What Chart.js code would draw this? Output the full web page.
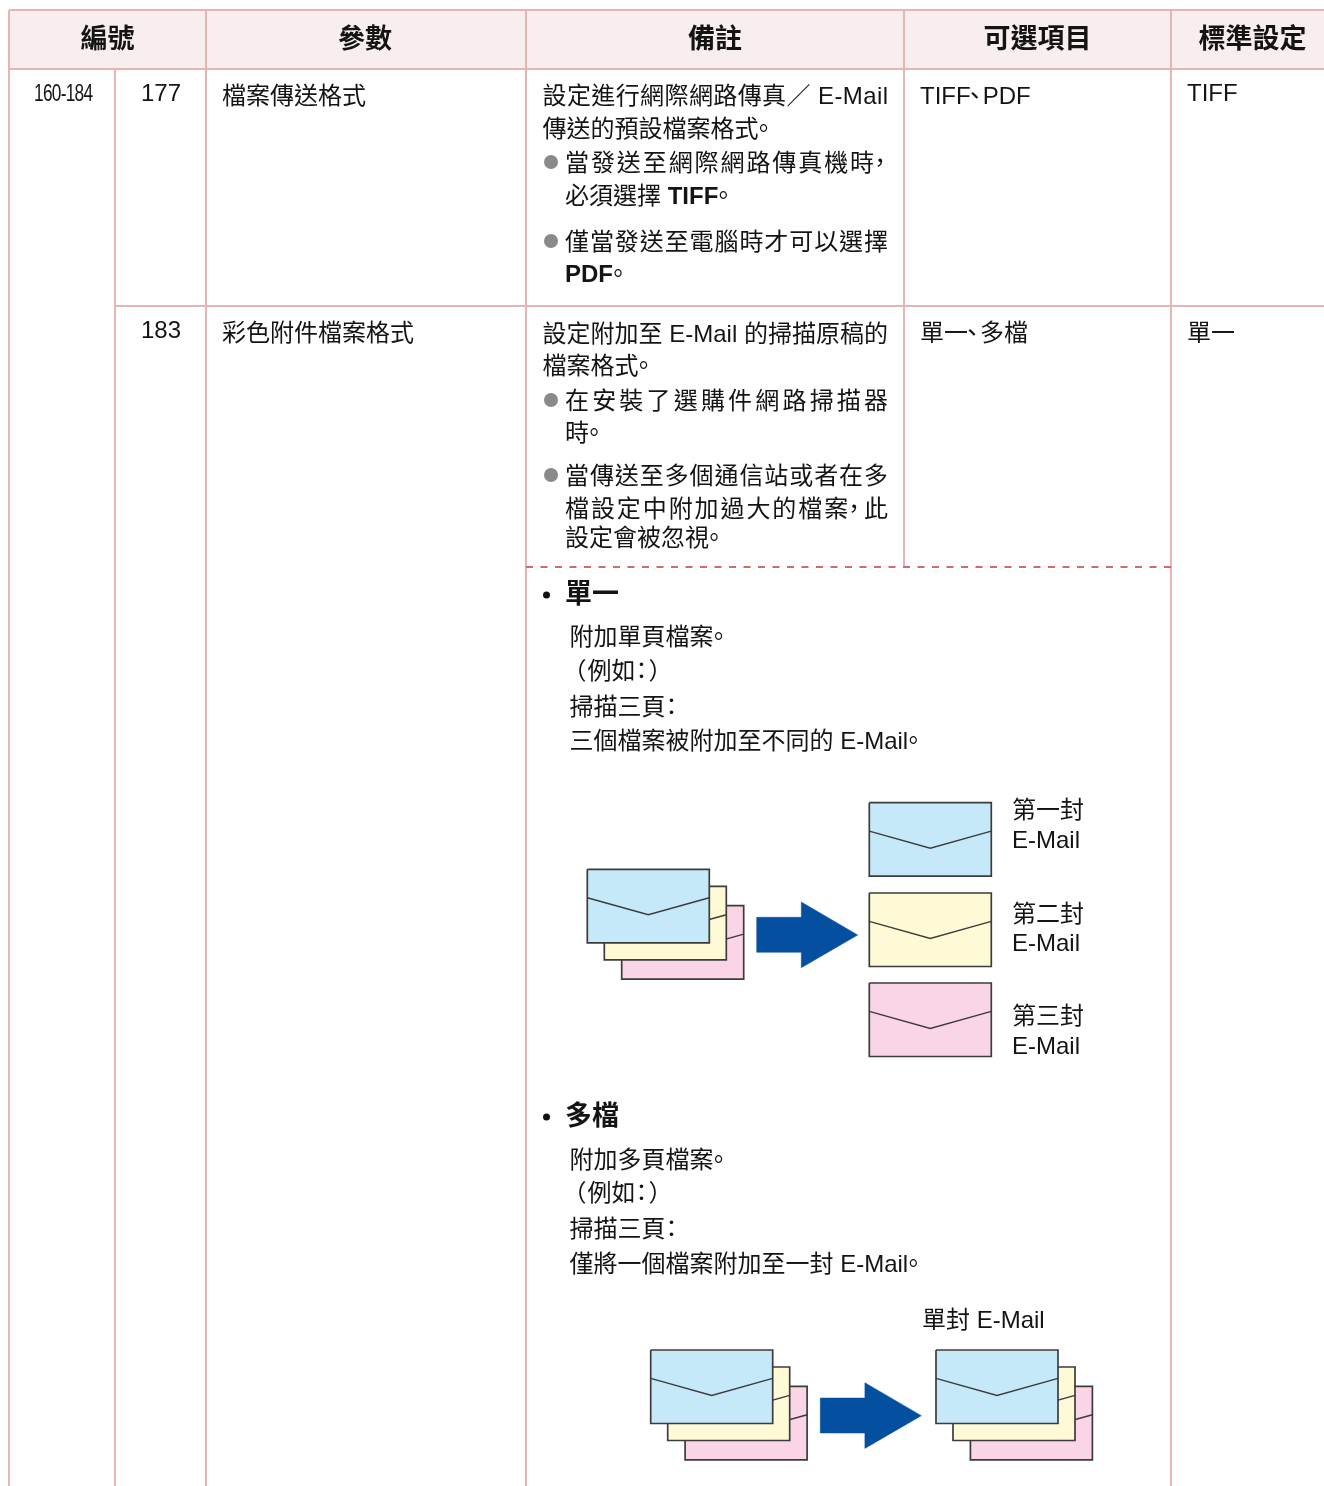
<!DOCTYPE html>
<html lang="zh-Hant">
<head>
<meta charset="utf-8">
<title>檔案傳送格式</title>
<script src="https://cdn.jsdelivr.net/npm/chart.js@4"></script>
<style>
html, body { margin: 0; padding: 0; background: #fff; }
canvas { display: block; }
</style>
</head>
<body>
<canvas id="sheet" width="1324" height="1486"></canvas>
<script>
// table text
const headerLabels = ['編號', '參數', '備註', '可選項目', '標準設定'];
const rangeLabel = '160-184';
const rowNumbers = ['177', '183'];
const paramNames = ['檔案傳送格式', '彩色附件檔案格式'];
const optionValues = ['TIFF、PDF', '單一、多檔'];
const defaultValues = ['TIFF', '單一'];
const notes177 = ['設定進行網際網路傳真／ E-Mail', '傳送的預設檔案格式。', '當發送至網際網路傳真機時，', '必須選擇 TIFF。', '僅當發送至電腦時才可以選擇', 'PDF。'];
const notes183 = ['設定附加至 E-Mail 的掃描原稿的', '檔案格式。', '在安裝了選購件網路掃描器', '時。', '當傳送至多個通信站或者在多', '檔設定中附加過大的檔案，此', '設定會被忽視。'];
const singleTitle = '單一';
const singleLines = ['附加單頁檔案。', '（例如：）', '掃描三頁：', '三個檔案被附加至不同的 E-Mail。'];
const multiTitle = '多檔';
const multiLines = ['附加多頁檔案。', '（例如：）', '掃描三頁：', '僅將一個檔案附加至一封 E-Mail。'];
const mailLabels = ['第一封', '第二封', '第三封'];
const mailWord = 'E-Mail';
const singleMailLabel = '單封 E-Mail';
const boldWords = /^(TIFF|PDF)$/;

// sheet geometry, in the units of the two hidden axes
const colEdges = [9, 115, 206, 526, 904, 1171];
const rowEdges = [10, 69, 306, 567];
const RULE = '#e6b4b4', HEAD = '#f9eeee', DASH = '#d2696b', INK = '#3c3c3c', ARROW = '#054fa0', DOT = '#8a8a8a';
const BLUE = '#c5e9f9', YELLOW = '#fefad6', PINK = '#f9d5e7';
const W = 1324, H = 1486;

// the source sets CJK punctuation narrow: [glyph shift, advance]
const narrowPunct = { '。': [-7, 12], '，': [-8, 12], '、': [-8, 12], '：': [-6, 12], '（': [-7, 18], '）': [1, 12] };

const datasets = [];
const texts = [];

function polyline(points, color, width, extra) {
    datasets.push(Object.assign({
        data: points.map(p => ({ x: p[0], y: p[1] })),
        showLine: true, pointRadius: 0, borderColor: color, borderWidth: width, fill: false
    }, extra));
}

function polygon(points, fillColor, lineColor, width) {
    polyline(points.concat([points[0]]), lineColor, width, { fill: 'shape', backgroundColor: fillColor });
}

function rule(x1, y1, x2, y2) {
    polyline([[x1, y1], [x2, y2]], RULE, 2);
}

function envelope(x, y, color) {
    const w = 122, h = 73.5;
    polygon([[x, y], [x + w, y], [x + w, y + h], [x, y + h]], color, INK, 1.7);
    polyline([[x, y + 28.4], [x + w / 2, y + 45.4], [x + w, y + 28.4]], INK, 1.5);
}

function stack(x, y) {
    envelope(x + 34.4, y + 36.4, PINK);
    envelope(x + 17, y + 17, YELLOW);
    envelope(x, y, BLUE);
}

function arrow(x, y) {
    polygon([[x, y + 15.3], [x + 44.6, y + 15.3], [x + 44.6, y], [x + 101, y + 33], [x + 44.6, y + 65.7], [x + 44.6, y + 50.3], [x, y + 50.3]], ARROW, ARROW, 0.5);
}

function bullets(points, color, radius) {
    datasets.push({
        data: points.map(p => ({ x: p[0], y: p[1] })),
        showLine: false, pointRadius: radius, pointBackgroundColor: color, pointBorderWidth: 0
    });
}

// y is the middle of a 24px CJK line; baseline sits 9 below it
function put(text, x, y, opts) {
    texts.push(Object.assign({ text, x, y: y + 9, size: 24, weight: 400 }, opts));
}

// header band and rules
polygon([[colEdges[0], rowEdges[0]], [W, rowEdges[0]], [W, rowEdges[1]], [colEdges[0], rowEdges[1]]], HEAD, HEAD, 0);
rule(colEdges[0], rowEdges[0], W, rowEdges[0]);
rule(colEdges[0], rowEdges[1], W, rowEdges[1]);
rule(colEdges[1], rowEdges[2], W, rowEdges[2]);
rule(colEdges[0], rowEdges[0], colEdges[0], H);
rule(colEdges[1], rowEdges[1], colEdges[1], H);
rule(colEdges[2], rowEdges[0], colEdges[2], H);
rule(colEdges[3], rowEdges[0], colEdges[3], H);
rule(colEdges[4], rowEdges[0], colEdges[4], rowEdges[3]);
rule(colEdges[5], rowEdges[0], colEdges[5], H);
polyline([[colEdges[3], rowEdges[3]], [1172, rowEdges[3]]], DASH, 2, { borderDash: [7, 7.5] });

// header row
[107.5, 365, 715, 1037.5, 1252.5].forEach((cx, i) => {
    put(headerLabels[i], cx, 38, { size: 27, weight: 700, align: 'center', nudge: 1 });
});

// row 177
put(rangeLabel, 34, 92, { squeeze: 0.72, spacing: -1 });
put(rowNumbers[0], 141, 92);
put(paramNames[0], 222, 95);
put(notes177[0], 542.5, 95, { to: 888 });
put(notes177[1], 542.5, 128);
put(notes177[2], 565, 162, { to: 888 });
put(notes177[3], 565, 195, { rich: true });
put(notes177[4], 565, 241, { to: 888 });
put(notes177[5], 565, 273, { rich: true });
put(optionValues[0], 920, 95);
put(defaultValues[0], 1187, 92);
bullets([[551, 162], [551, 241], [551, 400], [551, 475]], DOT, 7);

// row 183
put(rowNumbers[1], 141, 329);
put(paramNames[1], 222, 332);
put(notes183[0], 542.5, 333, { to: 888 });
put(notes183[1], 542.5, 365);
put(notes183[2], 565, 400, { to: 888 });
put(notes183[3], 565, 432);
put(notes183[4], 565, 475, { to: 888 });
put(notes183[5], 565, 508, { to: 888 });
put(notes183[6], 565, 537);
put(optionValues[1], 920, 332);
put(defaultValues[1], 1187, 332);

// single file section
bullets([[546.5, 595], [546.5, 1117]], '#111', 3.5);
put(singleTitle, 565, 594, { size: 27, weight: 700 });
[636, 670, 706, 740].forEach((y, i) => put(singleLines[i], 569.5, y));
stack(587.3, 869.3);
arrow(756.7, 902);
envelope(869.3, 802.7, BLUE);
envelope(869.3, 893, YELLOW);
envelope(869.3, 983, PINK);
[[809, 839], [913, 942], [1015, 1045]].forEach((pair, i) => {
    put(mailLabels[i], 1012, pair[0]);
    put(mailWord, 1012, pair[1]);
});

// multi file section
put(multiTitle, 565, 1116, { size: 27, weight: 700 });
[1159, 1192, 1228, 1263].forEach((y, i) => put(multiLines[i], 569.5, y));
stack(650.7, 1350);
arrow(820.3, 1382.7);
stack(936, 1350);
put(singleMailLabel, 922, 1319);

const textPlugin = {
    id: 'sheetText',
    afterDatasetsDraw(chart) {
        const ctx = chart.ctx;
        const xs = chart.scales.x, ys = chart.scales.y;
        ctx.save();
        ctx.fillStyle = '#141414';
        ctx.textBaseline = 'alphabetic';
        texts.forEach(t => {
            const family = '"Liberation Sans", "Noto Sans CJK TC", sans-serif';
            const regular = `${t.weight} ${t.size}px ${family}`;
            const bold = `700 ${t.size}px ${family}`;
            const runs = t.text.split(/(TIFF|PDF|[。，、：（）])/).filter(Boolean);
            const fontOf = r => (t.rich && boldWords.test(r) ? bold : regular);
            const advance = r => (narrowPunct[r] ? narrowPunct[r][1] : ctx.measureText(r).width);
            ctx.letterSpacing = '0px';
            let total = 0;
            runs.forEach(r => { ctx.font = fontOf(r); total += advance(r); });
            let spacing = t.spacing || 0;
            if (t.to) spacing = (t.to - t.x - total) / (t.text.length - 1);
            let px = xs.getPixelForValue(t.x);
            if (t.align === 'center') px -= total / 2;
            const py = ys.getPixelForValue(t.y + (t.nudge || 0));
            ctx.letterSpacing = spacing + 'px';
            if (t.squeeze) {
                ctx.save();
                ctx.translate(px, py);
                ctx.scale(t.squeeze, 1);
                ctx.font = regular;
                ctx.fillText(t.text, 0, 0);
                ctx.restore();
                return;
            }
            runs.forEach(r => {
                ctx.font = fontOf(r);
                const shift = narrowPunct[r] ? narrowPunct[r][0] : 0;
                ctx.fillText(r, px + shift, py);
                px += narrowPunct[r] ? narrowPunct[r][1] + spacing : ctx.measureText(r).width;
            });
        });
        ctx.restore();
    }
};

new Chart(document.getElementById('sheet').getContext('2d'), {
    type: 'scatter',
    data: { datasets: datasets.reverse() },   // first dataset paints last
    options: {
        responsive: false,
        animation: false,
        events: [],
        layout: { padding: 0, autoPadding: false },
        plugins: { legend: { display: false }, tooltip: { enabled: false }, title: { display: false } },
        scales: {
            x: { type: 'linear', min: 0, max: W, display: false },
            y: { type: 'linear', min: 0, max: H, reverse: true, display: false }
        }
    },
    plugins: [textPlugin]
});
</script>
</body>
</html>
